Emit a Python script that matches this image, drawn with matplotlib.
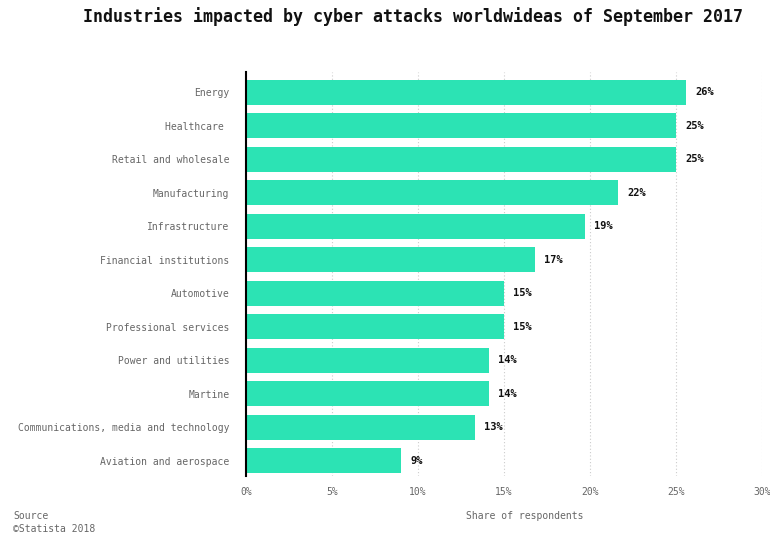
import matplotlib.pyplot as plt

# Data
industries = ['Energy', 'Healthcare ', 'Retail and wholesale', 'Manufacturing',
              'Infrastructure', 'Financial institutions', 'Automotive',
              'Professional services', 'Power and utilities', 'Martine',
              'Communications, media and technology', 'Aviation and aerospace']
shares = [25.6, 25.0, 25.0, 21.6, 19.7, 16.8, 15.0, 15.0, 14.1, 14.1, 13.3, 9.0]
share_labels = ['26%', '25%', '25%', '22%', '19%', '17%', '15%', '15%', '14%', '14%', '13%', '9%']
x_ticks = [0, 5, 10, 15, 20, 25, 30]

mono = 'DejaVu Sans Mono'
grey = '#666666'

fig = plt.figure(figsize=(7.7, 5.36), dpi=100)
ax = fig.add_axes([246 / 770, 1 - 476 / 536, 516 / 770, 404 / 536])

y = list(range(len(industries)))
ax.barh(y, shares, height=0.75, color='#2ce3b4', zorder=3)

for yi, v, lab in zip(y, shares, share_labels):
    ax.text(v + 0.55, yi, lab, va='center', ha='left', fontsize=7.5,
            fontweight='bold', family=mono, color='#111111')

ax.set_xlim(0, 30)
ax.set_ylim(11.45, -0.6)
ax.set_yticks(y)
ax.set_yticklabels(industries, family=mono, fontsize=7.0, color=grey)
ax.set_xticks(x_ticks)
ax.set_xticklabels([f'{t}%' for t in x_ticks], family=mono, fontsize=7.0, color=grey)
ax.tick_params(axis='both', length=0, pad=12)
ax.tick_params(axis='x', pad=8)

ax.grid(axis='x', linestyle=(0, (1, 2)), color='#cccccc', linewidth=0.8, zorder=0)
for s in ['top', 'right', 'bottom']:
    ax.spines[s].set_visible(False)
ax.spines['left'].set_color('black')
ax.spines['left'].set_linewidth(1.5)
ax.spines['left'].set_zorder(4)

fig.text(413 / 770, 1 - 17 / 536, 'Industries impacted by cyber attacks worldwideas of September 2017',
         ha='center', va='center', family=mono, fontweight='bold', fontsize=12.0, color='#111111')
fig.text(525 / 770, 1 - 516 / 536, 'Share of respondents', ha='center', va='center',
         family=mono, fontsize=7.0, color=grey)
fig.text(13 / 770, 1 - 516 / 536, 'Source', ha='left', va='center',
         family=mono, fontsize=7.0, color=grey)
fig.text(13 / 770, 1 - 529 / 536, '\u00a9Statista 2018', ha='left', va='center',
         family=mono, fontsize=7.0, color=grey)

fig.savefig('out.png', dpi=100, facecolor='white')
